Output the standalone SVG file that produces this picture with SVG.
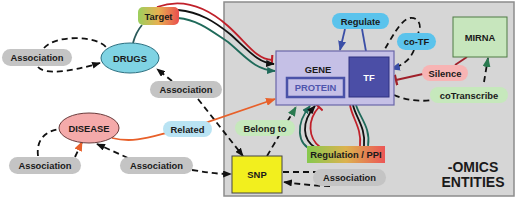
<svg xmlns="http://www.w3.org/2000/svg" width="520" height="200" viewBox="0 0 520 200">
<defs>
<linearGradient id="gTarget" x1="0" y1="0" x2="1" y2="0">
<stop offset="0" stop-color="#9ccf5e"/><stop offset="0.5" stop-color="#e8b050"/><stop offset="1" stop-color="#ea4e4e"/>
</linearGradient>
<linearGradient id="gReg" x1="0" y1="0" x2="1" y2="0">
<stop offset="0" stop-color="#86c94e"/><stop offset="0.5" stop-color="#dcb24e"/><stop offset="1" stop-color="#ec5656"/>
</linearGradient>
<marker id="aBlack" viewBox="0 0 10 8" refX="9" refY="4" markerWidth="9" markerHeight="7" markerUnits="userSpaceOnUse" orient="auto"><path d="M0,0 L10,4 L0,8 z" fill="#111"/></marker>
<marker id="aTeal" viewBox="0 0 10 8" refX="9" refY="4" markerWidth="9" markerHeight="7" markerUnits="userSpaceOnUse" orient="auto"><path d="M0,0 L10,4 L0,8 z" fill="#1f6a5a"/></marker>
<marker id="aBlue" viewBox="0 0 10 8" refX="9" refY="4" markerWidth="10" markerHeight="8" markerUnits="userSpaceOnUse" orient="auto"><path d="M0,0 L10,4 L0,8 z" fill="#3a4ea6"/></marker>
<marker id="aOrange" viewBox="0 0 10 8" refX="9" refY="4" markerWidth="10" markerHeight="8" markerUnits="userSpaceOnUse" orient="auto"><path d="M0,0 L10,4 L0,8 z" fill="#e8602a"/></marker>
<marker id="aGreen" viewBox="0 0 10 8" refX="9" refY="4" markerWidth="10" markerHeight="8" markerUnits="userSpaceOnUse" orient="auto"><path d="M0,0 L10,4 L0,8 z" fill="#2a7a50"/></marker>
<marker id="tRed" viewBox="0 0 4 12" refX="2" refY="6" markerWidth="4" markerHeight="10" markerUnits="userSpaceOnUse" orient="auto"><path d="M2,0 L2,12" stroke="#c0202a" stroke-width="2.5"/></marker>
<marker id="tDark" viewBox="0 0 4 12" refX="2" refY="6" markerWidth="4" markerHeight="11" markerUnits="userSpaceOnUse" orient="auto"><path d="M2,0 L2,12" stroke="#a0202a" stroke-width="2.5"/></marker>
</defs>
<style>
text{font-family:"Liberation Sans",Arial,sans-serif;font-weight:bold;font-size:9.4px;fill:#1a1a1a;text-anchor:middle}
.pill{stroke:none}
.assoc{fill:#c4c4c4}
.dash{fill:none;stroke:#111;stroke-width:1.8;stroke-dasharray:6,4}
.line{fill:none;stroke-width:1.8}
</style>
<rect id="panel" x="224" y="2" width="290" height="194" fill="#d6d6d6" stroke="#8c8c8c" stroke-width="1.5"/>
<g id="connectors">
<path d="M133,43 Q136,32 142,25" class="line" stroke="#2a5a5a" stroke-width="2.5"/>
<path d="M157,7 C185,-3 210,10 228,26 C248,44 256,59 272,60" class="line" stroke="#c0202a" marker-end="url(#tRed)"/>
<path d="M178,10 C200,12 215,22 230,34 C248,50 258,63 274,64" class="line" stroke="#111" marker-end="url(#aBlack)"/>
<path d="M178,18 C198,20 210,30 228,42 C245,56 255,70 275,71" class="line" stroke="#1f6a5a" marker-end="url(#aTeal)"/>
<path d="M44,48 C55,35 95,35 106,47" class="dash"/>
<path d="M38,67 C45,75 70,72 100,63" class="dash" marker-end="url(#aBlack)"/>
<path d="M172,81 L157,69" class="dash" marker-end="url(#aBlack)"/>
<path d="M198,99 L243,156" class="dash" marker-end="url(#aBlack)"/>
<path d="M38,156 C36,140 45,131 60,129" class="dash" stroke="#e8602a"/>
<path d="M75,157 L82,142" class="dash" stroke="#e8602a" marker-end="url(#aOrange)"/>
<path d="M128,158 L97,144" class="dash" marker-end="url(#aBlack)"/>
<path d="M192,170 C205,172 215,174 231,174" class="dash" marker-end="url(#aBlack)"/>
<path d="M112,138 C140,145 160,132 190,128 L275,99" class="line" stroke="#e8602a" stroke-width="2" marker-end="url(#aOrange)"/>
<path d="M267,156 L296,107" class="dash" stroke="#2a7a50" stroke-width="2" marker-end="url(#aGreen)"/>
<path d="M313,150 C297,145 295,124 310,106" class="line" stroke="#1f6a5a" marker-end="url(#aTeal)"/>
<path d="M316,148 C302,140 301,122 315,106" class="line" stroke="#111" marker-end="url(#aBlack)"/>
<path d="M320,147 C308,138 307,120 319,107" class="line" stroke="#c0202a" marker-end="url(#tRed)"/>
<path d="M350,105 C352,118 362,128 360,146" class="line" stroke="#c0202a"/>
<path d="M353,105 C356,118 366,128 364,146" class="line" stroke="#111"/>
<path d="M356,105 C360,118 371,128 368,146" class="line" stroke="#1f6a5a"/>
<path d="M345,29 L340,50" class="line" stroke="#3a4ea6" stroke-width="2" marker-end="url(#aBlue)"/>
<path d="M362,29 L367,57" class="line" stroke="#3a4ea6" stroke-width="2"/>
<path d="M380,57 C392,38 400,20 410,18 C420,17 422,28 418,33" class="dash" stroke="#3a4ea6" stroke-width="2"/>
<path d="M414,50 C410,60 402,66 391,69" class="dash" stroke="#3a4ea6" stroke-width="2" marker-end="url(#aBlue)"/>
<path d="M467,57 L455,65" class="line" stroke="#a0202a" stroke-width="2"/>
<path d="M423,74 L396,80" class="line" stroke="#a0202a" stroke-width="2" marker-end="url(#tDark)"/>
<path d="M394,95 C405,100 420,102 431,100" class="dash" stroke="#2a7a50" stroke-width="2"/>
<path d="M484,82 L488,58" class="dash" stroke="#2a7a50" stroke-width="2" marker-end="url(#aGreen)"/>
<path d="M283,172 L320,172" class="dash"/>
<path d="M330,186 C315,186 300,184 284,182" class="dash" marker-end="url(#aBlack)"/>
</g>
<g id="target"><rect x="138" y="7" width="41" height="18" rx="5" fill="url(#gTarget)"/><text x="158.5" y="19.5">Target</text></g>
<g id="drugs"><ellipse cx="130" cy="58" rx="29" ry="15" fill="#7fd3e3" stroke="#2a6f80" stroke-width="1"/><text x="130" y="61.5">DRUGS</text></g>
<g id="assoc1"><rect x="2" y="49" width="70" height="17" rx="8.5" class="pill assoc"/><text x="37" y="61">Association</text></g>
<g id="assoc2"><rect x="150" y="81" width="72" height="17" rx="8.5" class="pill assoc"/><text x="186" y="93">Association</text></g>
<g id="disease"><ellipse cx="89" cy="128" rx="30" ry="15" fill="#f4aaaa" stroke="#6a3a3a" stroke-width="1"/><text x="89" y="131.5">DISEASE</text></g>
<g id="related"><rect x="163" y="121" width="49" height="16" rx="8" class="pill" fill="#b9e3f3"/><text x="187.5" y="132.5">Related</text></g>
<g id="assoc3"><rect x="9" y="157" width="72" height="17" rx="8.5" class="pill assoc"/><text x="45" y="169">Association</text></g>
<g id="assoc4"><rect x="120" y="157" width="73" height="17" rx="8.5" class="pill assoc"/><text x="156.5" y="169">Association</text></g>
<g id="gene"><rect x="276" y="51" width="118" height="54" fill="#c5c0e6" stroke="#6a66a8" stroke-width="1.2"/><text x="318" y="73">GENE</text></g>
<g id="protein"><rect x="287" y="78" width="57" height="19" fill="#c5c0e6" stroke="#4a52a8" stroke-width="2.5"/><text x="315.5" y="91" fill="#4f55ad" style="fill:#4f55ad">PROTEIN</text></g>
<g id="tf"><rect x="349" y="57" width="40" height="40" fill="#4b4ea6" stroke="#2e3080" stroke-width="1"/><text x="369" y="80.5" style="fill:#ffffff">TF</text></g>
<g id="regulate"><rect x="332" y="13" width="57" height="16" rx="8" class="pill" fill="#5bc3ec"/><text x="360.5" y="24.5">Regulate</text></g>
<g id="cotf"><rect x="397" y="33" width="39" height="17" rx="8.5" class="pill" fill="#5bc3ec"/><text x="416.5" y="45">co-TF</text></g>
<g id="mirna"><rect x="453" y="17" width="54" height="40" fill="#c7e6bd" stroke="#4f7a45" stroke-width="1"/><text x="480" y="41">MIRNA</text></g>
<g id="silence"><rect x="422" y="65" width="46" height="16" rx="8" class="pill" fill="#f7b4b4"/><text x="445" y="76.5">Silence</text></g>
<g id="cotranscribe"><rect x="430" y="87" width="78" height="16" rx="8" class="pill" fill="#c6e8bc"/><text x="469" y="98.5">coTranscribe</text></g>
<g id="belongto"><rect x="235" y="120" width="60" height="16" rx="8" class="pill" fill="#c6e8bc"/><text x="265" y="131.5">Belong to</text></g>
<g id="regppi"><rect x="307" y="146" width="78" height="17" fill="url(#gReg)"/><text x="346" y="158">Regulation / PPI</text></g>
<g id="snp"><rect x="232" y="156" width="50" height="37" fill="#f2ef1e" stroke="#444" stroke-width="1"/><text x="257" y="178">SNP</text></g>
<g id="assoc5"><rect x="313" y="169" width="73" height="17" rx="8.5" class="pill assoc"/><text x="349.5" y="181">Association</text></g>
<g id="omics"><text x="473" y="172" style="font-size:14px">-OMICS</text><text x="473" y="187" style="font-size:14px">ENTITIES</text></g>
</svg>
